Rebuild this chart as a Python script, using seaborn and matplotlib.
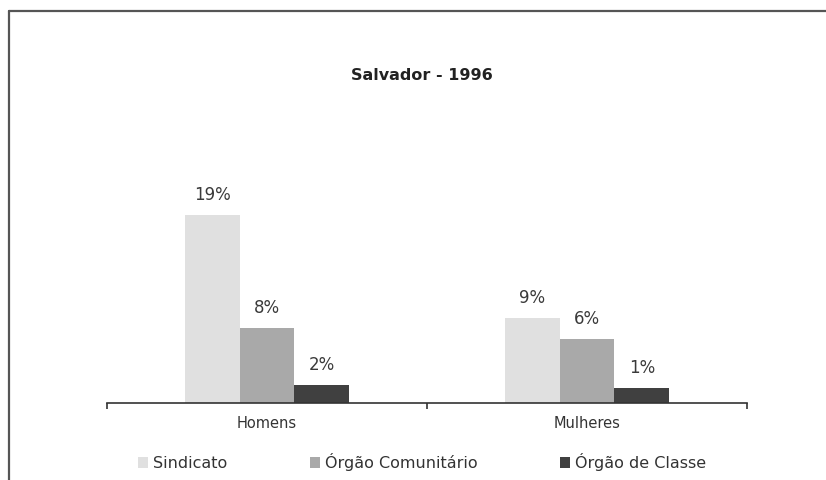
import numpy as np
import pandas as pd
import matplotlib
matplotlib.use("Agg")
import matplotlib.pyplot as plt
from matplotlib.patches import Patch
from matplotlib.lines import Line2D
import seaborn as sns

categories = ["Homens", "Mulheres"]
series = ["Sindicato", "Órgão Comunitário", "Órgão de Classe"]
sindicato = [19.0, 8.6]
comunitario = [7.6, 6.5]
classe = [1.8, 1.5]
labels_sindicato = ["19%", "9%"]
labels_comunitario = ["8%", "6%"]
labels_classe = ["2%", "1%"]
colors = ["#e0e0e0", "#a9a9a9", "#404040"]

df = pd.DataFrame({
    "grupo": categories * 3,
    "serie": np.repeat(series, len(categories)),
    "valor": sindicato + comunitario + classe,
})

sns.set_theme(style="white")
plt.rcParams["font.family"] = ["DejaVu Sans"]

fig = plt.figure(figsize=(8.26, 4.8), dpi=100)
ax = fig.add_axes([107 / 826, 77 / 480, 640 / 826, 237 / 480])
sns.barplot(data=df, x="grupo", y="valor", hue="serie", hue_order=series,
            order=categories, palette=colors, width=0.515, saturation=1,
            linewidth=0, ax=ax, legend=False)

ax.set_ylim(0, 24)
ax.set_xlim(-0.5, 1.5)
for s in ["top", "right", "left"]:
    ax.spines[s].set_visible(False)
ax.spines["bottom"].set_color("#333333")
ax.spines["bottom"].set_linewidth(1.2)
ax.set_yticks([])
ax.set_xlabel("")
ax.set_ylabel("")
ax.set_xticks([0, 1])
ax.set_xticklabels(categories)
ax.set_xticks([-0.5, 0.5, 1.5], minor=True)
ax.tick_params(axis="x", which="major", length=0, pad=9, labelsize=10.5, labelcolor="#333333")
ax.tick_params(axis="x", which="minor", length=4, width=1.2, color="#333333", direction="out", bottom=True)

for cont, labs in zip(ax.containers, [labels_sindicato, labels_comunitario, labels_classe]):
    ax.bar_label(cont, labels=labs, padding=8, fontsize=12, color="#3a3a3a")

fig.text(422 / 826, 1 - 75 / 480, "Salvador - 1996", ha="center", va="center",
         fontsize=11.5, fontweight="bold", color="#222222")

handles = [Patch(facecolor=c, edgecolor="none") for c in colors]
fig.legend(handles, series, loc="center", bbox_to_anchor=(422 / 826, 1 - 462 / 480),
           ncol=3, frameon=False, fontsize=11.5, handlelength=0.62, handleheight=0.62,
           handletextpad=0.3, columnspacing=5.2, labelcolor="#333333")

fig.add_artist(Line2D([9 / 826, 9 / 826], [0, 1 - 11 / 480], transform=fig.transFigure,
                      color="#555555", lw=1.6))
fig.add_artist(Line2D([9 / 826, 1], [1 - 11 / 480, 1 - 11 / 480], transform=fig.transFigure,
                      color="#555555", lw=1.6))

fig.savefig("out.png", dpi=100, facecolor="white")
